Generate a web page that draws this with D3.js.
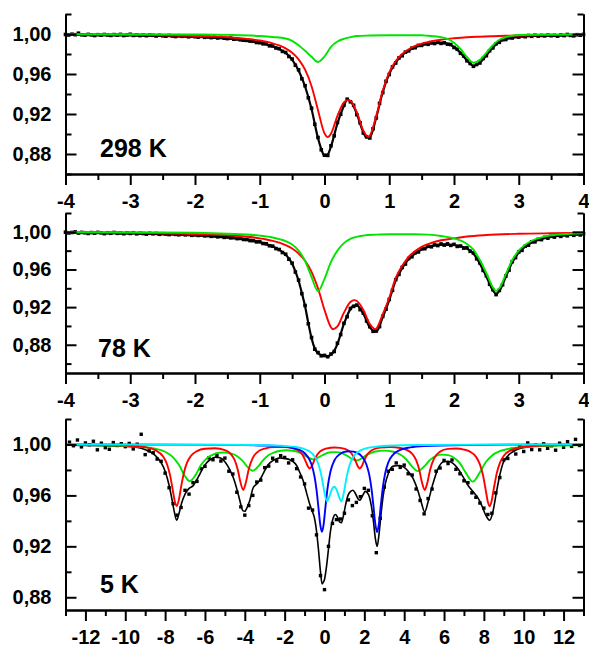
<!DOCTYPE html>
<html>
<head>
<meta charset="utf-8">
<script src="https://cdn.jsdelivr.net/npm/d3@7/dist/d3.min.js"></script>
<style>
  body { margin: 0; background: #fff; }
</style>
</head>
<body>
<svg id="chart" width="589" height="648"></svg>
<script>
// ---- tick values ----
var yMajor = [0.88, 0.92, 0.96, 1.00];
var yMinor = [0.86, 0.90, 0.94, 0.98, 1.02];
var xMajorNarrow = [-4, -3, -2, -1, 0, 1, 2, 3, 4];
var xMinorNarrow = [-3.5, -2.5, -1.5, -0.5, 0.5, 1.5, 2.5, 3.5];
var xMajorWide = [-12, -10, -8, -6, -4, -2, 0, 2, 4, 6, 8, 10, 12];
var xMinorWide = [-13, -11, -9, -7, -5, -3, -1, 1, 3, 5, 7, 9, 11, 13];

// ---- 298 K ----
var vel298 = d3.range(161).map(function (i) { return +(-4 + i * 0.05).toFixed(2); });
var abs298 = [
  0.9995,0.9990,0.9998,0.9993,1.0008,0.9992,0.9989,0.9996,0.9991,0.9985,
  0.9993,0.9988,0.9995,0.9990,0.9986,0.9994,0.9989,0.9996,0.9985,0.9991,
  0.9997,0.9986,0.9992,0.9984,0.9990,0.9983,0.9991,0.9987,0.9980,0.9988,
  0.9982,0.9978,0.9986,0.9980,0.9975,0.9983,0.9977,0.9981,0.9972,0.9978,
  0.9973,0.9969,0.9976,0.9967,0.9971,0.9964,0.9968,0.9960,0.9965,0.9958,
  0.9954,0.9959,0.9948,0.9951,0.9942,0.9938,0.9936,0.9929,0.9927,0.9915,
  0.9913,0.9902,0.9901,0.9882,0.9880,0.9860,0.9853,0.9826,0.9815,0.9775,
  0.9750,0.9688,0.9642,0.9552,0.9483,0.9362,0.9258,0.9097,0.8965,0.8842,
  0.8788,0.8786,0.8882,0.8982,0.9115,0.9197,0.9288,0.9348,0.9322,0.9287,
  0.9193,0.9112,0.9010,0.8972,0.8960,0.9052,0.9161,0.9307,0.9414,0.9527,
  0.9595,0.9671,0.9710,0.9761,0.9783,0.9819,0.9831,0.9858,0.9863,0.9886,
  0.9886,0.9902,0.9897,0.9912,0.9905,0.9916,0.9906,0.9913,0.9898,0.9895,
  0.9865,0.9848,0.9807,0.9780,0.9732,0.9705,0.9677,0.9695,0.9710,0.9755,
  0.9783,0.9833,0.9861,0.9902,0.9917,0.9943,0.9945,0.9963,0.9960,0.9975,
  0.9969,0.9980,0.9973,0.9985,0.9977,0.9988,0.9979,0.9986,0.9981,0.9990,
  0.9983,0.9987,0.9979,0.9991,0.9984,0.9995,0.9986,0.9982,0.9993,0.9988,
  0.9996
];
var fit298 = [[-4,0.9993],[-3.5,0.9990],[-3,0.9987],[-2.5,0.9982],[-2,0.9974],[-1.5,0.9956],[-1,0.9915],[-0.9,0.9898],[-0.8,0.9877],[-0.7,0.9849],[-0.6,0.9811],[-0.5,0.9744],[-0.4,0.9635],[-0.3,0.9475],[-0.2,0.9250],[-0.1,0.8957],[-0.05,0.8850],[0,0.8781],[0.05,0.8795],[0.1,0.8875],[0.2,0.9107],[0.3,0.9280],[0.35,0.9340],[0.4,0.9330],[0.5,0.9200],[0.6,0.9017],[0.65,0.8965],[0.7,0.8967],[0.8,0.9168],[0.9,0.9421],[1,0.9601],[1.1,0.9716],[1.2,0.9788],[1.3,0.9836],[1.4,0.9868],[1.5,0.9891],[1.6,0.9902],[1.7,0.9910],[1.8,0.9911],[1.9,0.9903],[2,0.9870],[2.1,0.9812],[2.2,0.9737],[2.3,0.9682],[2.4,0.9715],[2.5,0.9788],[2.6,0.9866],[2.7,0.9922],[2.8,0.9950],[3,0.9974],[3.2,0.9982],[3.5,0.9986],[4,0.9990]];
var red298 = [[-4,0.9994],[-3,0.9990],[-2,0.9980],[-1.5,0.9967],[-1,0.9935],[-0.9,0.9923],[-0.8,0.9907],[-0.7,0.9886],[-0.6,0.9856],[-0.5,0.9812],[-0.4,0.9747],[-0.3,0.9643],[-0.2,0.9478],[-0.1,0.9237],[0,0.9006],[0.05,0.8969],[0.1,0.9003],[0.2,0.9182],[0.3,0.9317],[0.35,0.9339],[0.4,0.9330],[0.5,0.9217],[0.6,0.9032],[0.68,0.8970],[0.7,0.8982],[0.8,0.9183],[0.9,0.9436],[1,0.9616],[1.1,0.9730],[1.2,0.9801],[1.3,0.9848],[1.4,0.9881],[1.5,0.9904],[1.6,0.9920],[1.7,0.9933],[1.8,0.9943],[1.9,0.9951],[2,0.9957],[2.2,0.9967],[2.4,0.9973],[2.6,0.9978],[2.8,0.9982],[3,0.9984],[3.5,0.9989],[4,0.9992]];
var green298 = [[-4,0.9999],[-3,0.9998],[-2,0.9995],[-1.5,0.9991],[-1,0.9980],[-0.8,0.9970],[-0.6,0.9955],[-0.5,0.9932],[-0.4,0.9888],[-0.3,0.9832],[-0.2,0.9772],[-0.1,0.9720],[0,0.9775],[0.1,0.9872],[0.2,0.9925],[0.3,0.9952],[0.4,0.9968],[0.5,0.9980],[0.7,0.9985],[1,0.9988],[1.3,0.9988],[1.5,0.9987],[1.6,0.9982],[1.7,0.9977],[1.8,0.9968],[1.9,0.9952],[2,0.9913],[2.1,0.9850],[2.2,0.9770],[2.3,0.9712],[2.4,0.9742],[2.5,0.9812],[2.6,0.9888],[2.7,0.9942],[2.8,0.9968],[3,0.9990],[3.5,0.9995],[4,0.9997]];

// ---- 78 K ----
var vel78 = d3.range(161).map(function (i) { return +(-4 + i * 0.05).toFixed(2); });
var abs78 = [
  0.9996,0.9988,0.9993,0.9999,0.9987,0.9994,0.9990,0.9983,0.9992,0.9986,
  0.9994,0.9989,0.9981,0.9990,0.9985,0.9993,0.9984,0.9988,0.9980,0.9989,
  0.9983,0.9990,0.9979,0.9986,0.9982,0.9976,0.9985,0.9979,0.9983,0.9974,
  0.9980,0.9976,0.9971,0.9979,0.9973,0.9969,0.9975,0.9968,0.9972,0.9963,
  0.9967,0.9962,0.9966,0.9957,0.9960,0.9952,0.9956,0.9947,0.9951,0.9941,
  0.9945,0.9936,0.9938,0.9928,0.9930,0.9919,0.9918,0.9907,0.9906,0.9893,
  0.9895,0.9876,0.9873,0.9852,0.9848,0.9822,0.9812,0.9780,0.9762,0.9709,
  0.9667,0.9573,0.9487,0.9343,0.9217,0.9023,0.8877,0.8753,0.8717,0.8683,
  0.8687,0.8673,0.8702,0.8728,0.8817,0.8908,0.9028,0.9098,0.9186,0.9208,
  0.9222,0.9173,0.9137,0.9053,0.8992,0.8943,0.8947,0.8993,0.9102,0.9178,
  0.9282,0.9378,0.9492,0.9548,0.9622,0.9658,0.9717,0.9735,0.9777,0.9786,
  0.9820,0.9821,0.9847,0.9841,0.9862,0.9854,0.9871,0.9859,0.9872,0.9856,
  0.9867,0.9845,0.9849,0.9827,0.9830,0.9793,0.9775,0.9713,0.9669,0.9590,
  0.9533,0.9443,0.9386,0.9333,0.9378,0.9438,0.9530,0.9593,0.9683,0.9726,
  0.9786,0.9803,0.9847,0.9858,0.9894,0.9893,0.9920,0.9917,0.9941,0.9933,
  0.9953,0.9944,0.9963,0.9952,0.9969,0.9958,0.9975,0.9963,0.9979,0.9967,
  0.9981
];
var fit78 = [[-4,0.9991],[-3,0.9985],[-2,0.9967],[-1.5,0.9943],[-1,0.9891],[-0.9,0.9869],[-0.8,0.9844],[-0.7,0.9808],[-0.6,0.9758],[-0.5,0.9660],[-0.45,0.9580],[-0.4,0.9480],[-0.35,0.9350],[-0.3,0.9210],[-0.25,0.9030],[-0.2,0.8870],[-0.15,0.8760],[-0.1,0.8710],[-0.05,0.8690],[0,0.8680],[0.05,0.8680],[0.1,0.8695],[0.15,0.8735],[0.2,0.8810],[0.3,0.9021],[0.4,0.9179],[0.45,0.9215],[0.5,0.9215],[0.6,0.9130],[0.7,0.8985],[0.8,0.8940],[0.9,0.9095],[1,0.9275],[1.1,0.9485],[1.2,0.9615],[1.3,0.9710],[1.4,0.9770],[1.5,0.9813],[1.6,0.9840],[1.8,0.9865],[2,0.9860],[2.2,0.9823],[2.3,0.9768],[2.4,0.9662],[2.5,0.9526],[2.6,0.9379],[2.65,0.9340],[2.7,0.9371],[2.8,0.9523],[2.9,0.9676],[3,0.9779],[3.2,0.9887],[3.4,0.9934],[3.6,0.9956],[3.8,0.9968],[4,0.9974]];
var red78 = [[-4,0.9993],[-3,0.9989],[-2,0.9977],[-1.5,0.9963],[-1,0.9931],[-0.9,0.9919],[-0.8,0.9904],[-0.7,0.9885],[-0.6,0.9858],[-0.5,0.9822],[-0.4,0.9769],[-0.3,0.9692],[-0.2,0.9575],[-0.1,0.9399],[0,0.9171],[0.1,0.8986],[0.13,0.8965],[0.2,0.8995],[0.3,0.9141],[0.4,0.9254],[0.46,0.9274],[0.5,0.9265],[0.6,0.9170],[0.7,0.9020],[0.79,0.8965],[0.8,0.8970],[0.9,0.9125],[1,0.9300],[1.1,0.9510],[1.2,0.9640],[1.3,0.9735],[1.4,0.9795],[1.5,0.9840],[1.6,0.9870],[1.8,0.9910],[2,0.9930],[2.2,0.9950],[2.5,0.9966],[3,0.9979],[3.5,0.9985],[4,0.9989]];
var green78 = [[-4,0.9998],[-3,0.9996],[-2,0.9990],[-1.5,0.9980],[-1,0.9960],[-0.8,0.9940],[-0.6,0.9900],[-0.5,0.9865],[-0.4,0.9800],[-0.3,0.9690],[-0.2,0.9520],[-0.1,0.9370],[0,0.9500],[0.1,0.9680],[0.2,0.9800],[0.3,0.9880],[0.4,0.9925],[0.6,0.9960],[0.8,0.9970],[1,0.9975],[1.4,0.9975],[1.6,0.9970],[1.8,0.9955],[2,0.9930],[2.2,0.9870],[2.3,0.9810],[2.4,0.9700],[2.5,0.9560],[2.6,0.9410],[2.65,0.9370],[2.7,0.9400],[2.8,0.9550],[2.9,0.9700],[3,0.9800],[3.2,0.9905],[3.4,0.9950],[3.6,0.9970],[3.8,0.9980],[4,0.9985]];

// ---- 5 K ----
var vel5 = d3.range(129).map(function (i) { return +(-12.8 + i * 0.2).toFixed(1); });
var abs5 = [
  1.0018,0.9990,1.0035,0.9981,1.0012,0.9998,1.0025,0.9958,1.0010,0.9975,
  0.9962,1.0015,0.9992,1.0006,0.9983,1.0008,0.9965,1.0002,1.0080,0.9920,
  0.9950,0.9935,0.9885,0.9868,0.9775,0.9660,0.9535,0.9445,0.9505,0.9640,
  0.9610,0.9700,0.9710,0.9810,0.9828,0.9895,0.9880,0.9912,0.9870,0.9893,
  0.9790,0.9768,0.9625,0.9510,0.9445,0.9520,0.9600,0.9705,0.9720,0.9818,
  0.9830,0.9892,0.9870,0.9912,0.9898,0.9855,0.9880,0.9810,0.9745,0.9690,
  0.9500,0.9485,0.9290,0.8970,0.8860,0.9200,0.9380,0.9410,0.9415,0.9460,
  0.9565,0.9520,0.9545,0.9590,0.9655,0.9640,0.9440,0.9150,0.9420,0.9665,
  0.9790,0.9805,0.9855,0.9820,0.9838,0.9770,0.9760,0.9650,0.9560,0.9455,
  0.9575,0.9650,0.9790,0.9815,0.9875,0.9850,0.9878,0.9805,0.9770,0.9715,
  0.9700,0.9620,0.9585,0.9540,0.9500,0.9450,0.9460,0.9620,0.9740,0.9880,
  0.9890,0.9960,0.9925,0.9990,0.9945,1.0012,0.9960,0.9995,0.9958,1.0005,
  0.9970,0.9990,0.9955,1.0010,0.9978,1.0022,0.9985,1.0040,0.9992
];
var fit5 = [[-13,0.9995],[-12,0.9993],[-11,0.9990],[-10,0.9986],[-9.6,0.9982],[-9.2,0.9970],[-8.8,0.9945],[-8.5,0.9915],[-8.25,0.9870],[-8,0.9790],[-7.8,0.9680],[-7.67,0.9580],[-7.55,0.9480],[-7.42,0.9405],[-7.3,0.9460],[-7.17,0.9540],[-7,0.9610],[-6.8,0.9655],[-6.6,0.9675],[-6.4,0.9725],[-6.25,0.9770],[-6,0.9840],[-5.75,0.9880],[-5.5,0.9900],[-5.25,0.9895],[-5,0.9865],[-4.75,0.9800],[-4.58,0.9740],[-4.4,0.9650],[-4.25,0.9560],[-4.1,0.9480],[-4,0.9475],[-3.9,0.9500],[-3.75,0.9560],[-3.58,0.9660],[-3.4,0.9690],[-3.25,0.9720],[-3.08,0.9770],[-2.9,0.9825],[-2.74,0.9855],[-2.5,0.9880],[-2.24,0.9895],[-2,0.9890],[-1.74,0.9880],[-1.58,0.9865],[-1.4,0.9835],[-1.24,0.9780],[-1.07,0.9715],[-0.9,0.9620],[-0.74,0.9530],[-0.6,0.9470],[-0.5,0.9420],[-0.4,0.9320],[-0.3,0.9170],[-0.2,0.8997],[-0.12,0.8905],[-0.05,0.8920],[0,0.8940],[0.1,0.9040],[0.18,0.9150],[0.3,0.9320],[0.43,0.9420],[0.55,0.9450],[0.65,0.9430],[0.77,0.9390],[0.85,0.9385],[0.95,0.9440],[1.05,0.9520],[1.18,0.9600],[1.3,0.9630],[1.43,0.9640],[1.55,0.9615],[1.7,0.9570],[1.77,0.9562],[1.85,0.9578],[1.95,0.9610],[2.05,0.9632],[2.15,0.9620],[2.25,0.9590],[2.36,0.9510],[2.45,0.9405],[2.55,0.9265],[2.64,0.9200],[2.73,0.9286],[2.83,0.9440],[2.93,0.9580],[3.05,0.9690],[3.2,0.9770],[3.45,0.9830],[3.78,0.9835],[4,0.9820],[4.2,0.9790],[4.44,0.9735],[4.7,0.9630],[4.85,0.9550],[5.03,0.9470],[5.2,0.9550],[5.45,0.9695],[5.7,0.9810],[5.95,0.9862],[6.2,0.9868],[6.45,0.9852],[6.7,0.9810],[6.95,0.9747],[7.2,0.9680],[7.45,0.9630],[7.7,0.9580],[7.87,0.9530],[8.05,0.9460],[8.29,0.9405],[8.45,0.9470],[8.62,0.9616],[8.8,0.9760],[8.96,0.9852],[9.2,0.9910],[9.46,0.9943],[9.8,0.9968],[10.3,0.9983],[11,0.9991],[12,0.9995],[13,0.9997]];
var red5 = [[-13,0.9997],[-11,0.9995],[-10,0.9991],[-9,0.9978],[-8.5,0.9956],[-8.1,0.9905],[-7.9,0.9843],[-7.75,0.9757],[-7.6,0.9627],[-7.5,0.9544],[-7.42,0.9517],[-7.3,0.9573],[-7.2,0.9665],[-7.05,0.9782],[-6.9,0.9857],[-6.7,0.9911],[-6.4,0.9948],[-6,0.9966],[-5.5,0.9970],[-5,0.9955],[-4.7,0.9924],[-4.5,0.9874],[-4.35,0.9799],[-4.22,0.9705],[-4.08,0.9643],[-3.95,0.9699],[-3.8,0.9807],[-3.6,0.9895],[-3.4,0.9936],[-3,0.9968],[-2.5,0.9979],[-2,0.9979],[-1.6,0.9971],[-1.3,0.9951],[-1.1,0.9917],[-0.95,0.9870],[-0.84,0.9829],[-0.74,0.9811],[-0.64,0.9829],[-0.5,0.9880],[-0.35,0.9923],[-0.1,0.9957],[0.3,0.9974],[0.5,0.9976],[0.8,0.9973],[1.2,0.9952],[1.4,0.9920],[1.55,0.9874],[1.67,0.9829],[1.77,0.9811],[1.87,0.9829],[2,0.9878],[2.15,0.9922],[2.4,0.9957],[2.8,0.9976],[3.3,0.9980],[3.8,0.9972],[4.2,0.9952],[4.4,0.9927],[4.6,0.9877],[4.75,0.9805],[4.9,0.9697],[5.03,0.9643],[5.15,0.9691],[5.3,0.9800],[5.5,0.9891],[5.8,0.9944],[6.2,0.9965],[6.6,0.9968],[7,0.9960],[7.3,0.9944],[7.6,0.9904],[7.8,0.9844],[7.95,0.9762],[8.1,0.9635],[8.2,0.9548],[8.29,0.9515],[8.4,0.9564],[8.5,0.9654],[8.65,0.9777],[8.8,0.9854],[9,0.9911],[9.4,0.9958],[10,0.9981],[11,0.9992],[13,0.9997]];
var green5 = [[-13,0.9996],[-12,0.9995],[-11,0.9993],[-10,0.9987],[-9,0.9978],[-8.5,0.9966],[-8,0.9943],[-7.6,0.9899],[-7.3,0.9838],[-7,0.9751],[-6.76,0.9711],[-6.5,0.9753],[-6.2,0.9838],[-5.9,0.9893],[-5.6,0.9921],[-5.3,0.9935],[-5,0.9937],[-4.7,0.9930],[-4.4,0.9910],[-4.1,0.9869],[-3.85,0.9821],[-3.6,0.9794],[-3.35,0.9823],[-3.1,0.9873],[-2.8,0.9917],[-2.5,0.9939],[-2.2,0.9951],[-1.9,0.9954],[-1.6,0.9951],[-1.3,0.9939],[-1,0.9914],[-0.8,0.9896],[-0.57,0.9883],[-0.3,0.9899],[0,0.9925],[0.3,0.9939],[0.6,0.9940],[0.9,0.9930],[1.2,0.9905],[1.4,0.9884],[1.6,0.9875],[1.8,0.9885],[2.1,0.9916],[2.5,0.9943],[3,0.9952],[3.4,0.9945],[3.8,0.9921],[4.1,0.9884],[4.4,0.9826],[4.69,0.9791],[5,0.9827],[5.3,0.9879],[5.6,0.9910],[5.9,0.9920],[6.2,0.9916],[6.5,0.9896],[6.8,0.9852],[7.1,0.9775],[7.45,0.9708],[7.8,0.9781],[8.1,0.9862],[8.4,0.9912],[8.8,0.9947],[9.2,0.9964],[9.6,0.9974],[10,0.9980],[10.5,0.9985],[11,0.9988],[12,0.9992],[13,0.9995]];
var blue5 = [[-13,1.0000],[-8,0.9999],[-5,0.9997],[-3,0.9992],[-2,0.9983],[-1.5,0.9970],[-1.1,0.9944],[-0.85,0.9906],[-0.65,0.9842],[-0.5,0.9747],[-0.4,0.9643],[-0.3,0.9498],[-0.22,0.9379],[-0.13,0.9314],[-0.05,0.9365],[0.05,0.9512],[0.15,0.9653],[0.3,0.9788],[0.5,0.9876],[0.8,0.9928],[1.1,0.9945],[1.3,0.9946],[1.6,0.9937],[1.9,0.9902],[2.1,0.9845],[2.25,0.9759],[2.35,0.9663],[2.45,0.9525],[2.55,0.9376],[2.64,0.9312],[2.73,0.9376],[2.83,0.9527],[2.93,0.9665],[3.05,0.9777],[3.2,0.9858],[3.45,0.9921],[3.8,0.9958],[4.3,0.9977],[5,0.9988],[7,0.9996],[10,0.9999],[13,1.0000]];
var cyan5 = [[-13,1.0000],[-5,0.9998],[-3,0.9994],[-2,0.9988],[-1.5,0.9981],[-1.1,0.9969],[-0.8,0.9950],[-0.6,0.9926],[-0.4,0.9881],[-0.25,0.9818],[-0.1,0.9711],[0,0.9621],[0.12,0.9554],[0.25,0.9594],[0.35,0.9640],[0.485,0.9668],[0.62,0.9640],[0.72,0.9594],[0.85,0.9554],[0.97,0.9621],[1.1,0.9736],[1.25,0.9834],[1.45,0.9903],[1.7,0.9943],[2,0.9966],[2.5,0.9981],[3.5,0.9992],[5,0.9996],[8,0.9999],[13,1.0000]];

// ---- layout ----
var svg = d3.select("#chart");
var LEFT = 65.5, RIGHT = 583.5;
var FONT = "'Liberation Sans', Arial, sans-serif";

var panels = [
  { label: "298 K", top: 14, bottom: 174, yDomain: [0.86, 1.02], xDomain: [-4, 4],
    xMajor: xMajorNarrow, xMinor: xMinorNarrow, vel: vel298, abs: abs298, fit: fit298, pt: 3.6, fitW: 2.2,
    comps: [[red298, "#ff0000"], [green298, "#00e400"]], labelX: 100, labelY: 157 },
  { label: "78 K", top: 213, bottom: 373, yDomain: [0.85, 1.02], xDomain: [-4, 4],
    xMajor: xMajorNarrow, xMinor: xMinorNarrow, vel: vel78, abs: abs78, fit: fit78, pt: 3.6, fitW: 2.2,
    comps: [[red78, "#ff0000"], [green78, "#00e400"]], labelX: 98, labelY: 357 },
  { label: "5 K", top: 419, bottom: 610, yDomain: [0.87, 1.02], xDomain: [-13, 13],
    xMajor: xMajorWide, xMinor: xMinorWide, vel: vel5, abs: abs5, fit: fit5, pt: 3.4, fitW: 1.6,
    comps: [[green5, "#00e400"], [red5, "#ff0000"], [blue5, "#0000ff"], [cyan5, "#00f0ff"]], labelX: 100, labelY: 593 }
];

function styleAxis(sel) {
  sel.attr("font-size", 20).attr("font-family", FONT).attr("font-weight", "bold");
  sel.selectAll("line").attr("stroke", "#000").attr("stroke-width", 2);
  sel.selectAll(".domain").attr("stroke", "#000").attr("stroke-width", 2);
  sel.selectAll("text").attr("fill", "#000");
}

panels.forEach(function (p) {
  var x = d3.scaleLinear().domain(p.xDomain).range([LEFT, RIGHT]);
  var y = d3.scaleLinear().domain(p.yDomain).range([p.bottom, p.top]);
  var g = svg.append("g");

  var line = d3.line()
    .x(function (d) { return x(d[0]); })
    .y(function (d) { return y(d[1]); })
    .curve(d3.curveMonotoneX);

  // measured points
  g.append("g").selectAll("rect")
    .data(p.vel.map(function (v, i) { return [v, p.abs[i]]; }))
    .join("rect")
    .attr("x", function (d) { return x(d[0]) - p.pt / 2; })
    .attr("y", function (d) { return y(d[1]) - p.pt / 2; })
    .attr("width", p.pt).attr("height", p.pt)
    .attr("fill", "#000");

  // total fit
  g.append("path").datum(p.fit).attr("d", line)
    .attr("fill", "none").attr("stroke", "#000").attr("stroke-width", p.fitW);

  // sub-spectra
  p.comps.forEach(function (c) {
    g.append("path").datum(c[0]).attr("d", line)
      .attr("fill", "none").attr("stroke", c[1]).attr("stroke-width", 1.9);
  });

  // axes
  var fmt = function (d) { return d3.format(".2f")(d).replace(".", ","); };
  g.append("g").attr("transform", "translate(0," + p.bottom + ")")
    .call(d3.axisBottom(x).tickValues(p.xMinor).tickSize(6).tickSizeOuter(0).tickFormat(""))
    .call(styleAxis);
  g.append("g").attr("transform", "translate(0," + p.bottom + ")")
    .call(d3.axisBottom(x).tickValues(p.xMajor).tickSize(11).tickSizeOuter(0).tickPadding(9)
      .tickFormat(function (d) { return String(d); }))
    .call(styleAxis);

  var minors = yMinor.filter(function (v) { return v >= p.yDomain[0] - 1e-9; });
  [[d3.axisLeft, LEFT], [d3.axisRight, RIGHT]].forEach(function (a, k) {
    g.append("g").attr("transform", "translate(" + a[1] + ",0)")
      .call(a[0](y).tickValues(minors).tickSize(-6).tickSizeOuter(0).tickFormat(""))
      .call(styleAxis);
    g.append("g").attr("transform", "translate(" + a[1] + ",0)")
      .call(a[0](y).tickValues(yMajor).tickSize(-11).tickSizeOuter(0).tickPadding(14)
        .tickFormat(k === 0 ? fmt : ""))
      .call(styleAxis);
  });

  g.append("text").attr("x", p.labelX).attr("y", p.labelY)
    .attr("font-family", FONT).attr("font-weight", "bold").attr("font-size", 25)
    .text(p.label);
});
</script>
</body>
</html>
